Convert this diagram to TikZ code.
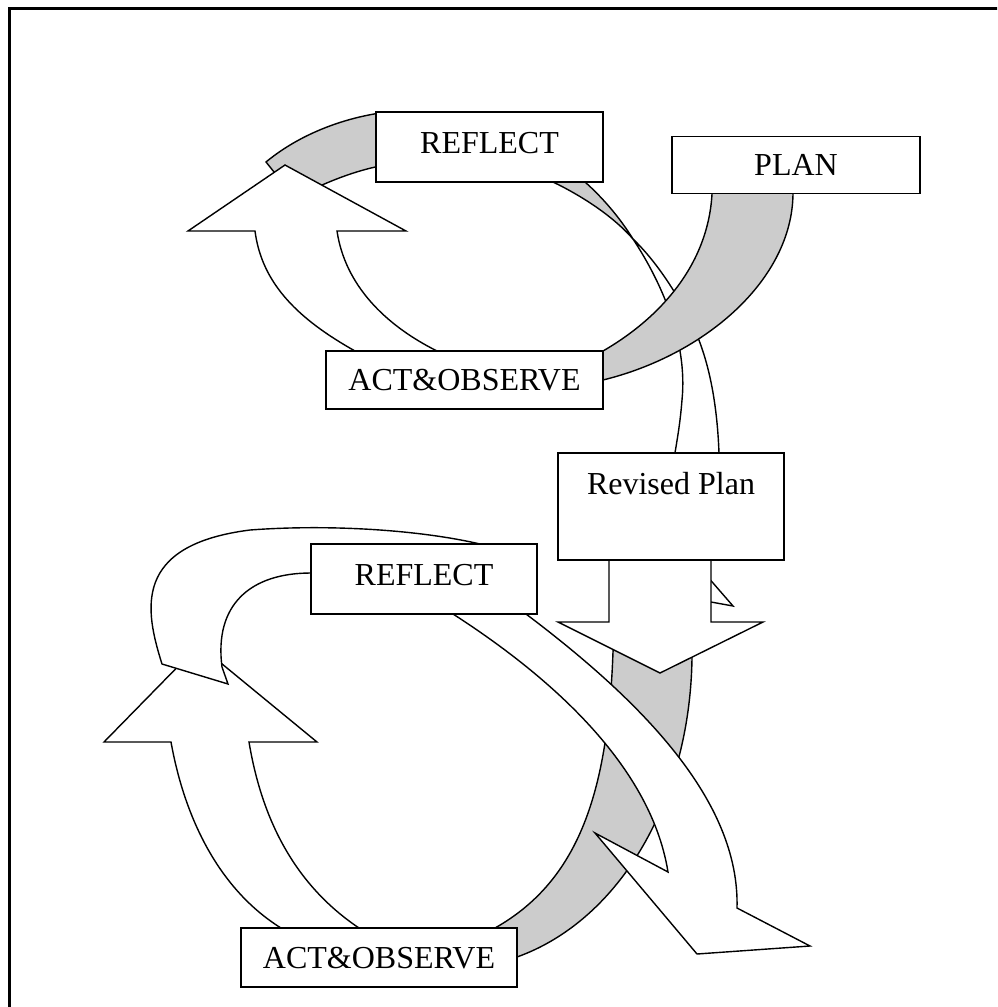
\documentclass[tikz,border=0pt]{standalone}
\usepackage{fontspec}
\setmainfont{Liberation Serif}
\usetikzlibrary{positioning}

\begin{document}
\begin{tikzpicture}[
        x=0.5pt, y=-0.5pt,
        box/.style={draw, fill=white, line width=0.7pt, inner sep=0pt, font=\fontsize{16}{19}\selectfont, text height=10.6pt, text depth=0pt},
        band/.style={draw, fill=gray!40, line width=0.7pt},
        ribbon/.style={draw, fill=white, line width=0.7pt}
    ]

    \useasboundingbox (0,0) rectangle (997,1007);
    \clip (0,0) rectangle (997,1007);
    \draw[line width=1.5pt] (9,8) rectangle (1010,1020);

    % Upper cycle
    \draw[band] (266,162) .. controls (295,138) and (335,120) .. (380,113) -- (380,166) .. controls (350,172) and (320,185) .. (295,198) -- cycle;
    \draw[band] (553,182) .. controls (580,195) and (612,215) .. (633,239) .. controls (620,218) and (603,198) .. (585,182) -- (585,175) -- (553,175) -- cycle;
    \draw[ribbon] (633,239) .. controls (660,280) and (688,340) .. (682,400) .. controls (680,425) and (677,440) .. (675,453) -- (675,470) -- (719,470) -- (719,453) .. controls (717,400) and (708,355) .. (690,320) .. controls (680,300) and (660,265) .. (633,239) -- cycle;
    \draw[ribbon] (700,568) -- (733,606) -- (700,600) -- cycle;
    \draw[ribbon] (355,358) -- (355,351) .. controls (300,320) and (262,285) .. (255,231) -- (188,231) -- (285,165) -- (406,231) -- (337,231) .. controls (345,285) and (385,325) .. (437,351) -- (437,358) -- cycle;
    \draw[band] (712,185) -- (712,194) .. controls (708,265) and (660,318) .. (603,351) -- (595,365) -- (603,380) .. controls (705,355) and (792,280) .. (793,194) -- (793,185) -- cycle;

    % Lower cycle
    \draw[band] (614,640) -- (613,652) .. controls (608,790) and (580,880) .. (495,928) -- (505,950) -- (517,957) .. controls (620,920) and (690,800) .. (692,658) -- (692,640) -- cycle;
    \draw[ribbon] (281,935) -- (281,928) .. controls (220,890) and (185,820) .. (171,742) -- (104,742) -- (199,645) -- (317,742) -- (249,742) .. controls (262,820) and (295,885) .. (359,928) -- (359,935) -- cycle;
    \draw[ribbon] (162,664) -- (228,684) -- (222,667) .. controls (214,605) and (250,573) .. (311,573) -- (453,614) .. controls (540,670) and (650,760) .. (668,872) -- (595,833) -- (697,954) -- (810,946) -- (737,908) .. controls (740,800) and (640,700) .. (526,614) -- (480,544) .. controls (420,530) and (330,524) .. (250,530) .. controls (132,545) and (145,610) .. (162,664) -- cycle;
    \draw[ribbon] (609,555) -- (609,622) -- (558,622) -- (660,673) -- (763,622) -- (711,622) -- (711,555) -- cycle;

    % Nodes
    \node[box, minimum width=113.5pt, minimum height=35pt, text depth=4.5pt] (reflect1) at (489.5,147) {REFLECT};
    \node[box, minimum width=124pt, minimum height=28.75pt] (plan) at (796,165) {PLAN};
    \node[box, minimum width=138.5pt, minimum height=29pt] (act1) at (464.5,380) {ACT\&OBSERVE};
    \node[box, minimum width=113pt, minimum height=53.5pt, text depth=22.5pt] (revised) at (671,506.5) {Revised Plan};
    \node[box, minimum width=113pt, minimum height=35pt, text depth=4.5pt] (reflect2) at (424,579) {REFLECT};
    \node[box, minimum width=138pt, minimum height=29.5pt] (act2) at (379,957.5) {ACT\&OBSERVE};

\end{tikzpicture}
\end{document}
